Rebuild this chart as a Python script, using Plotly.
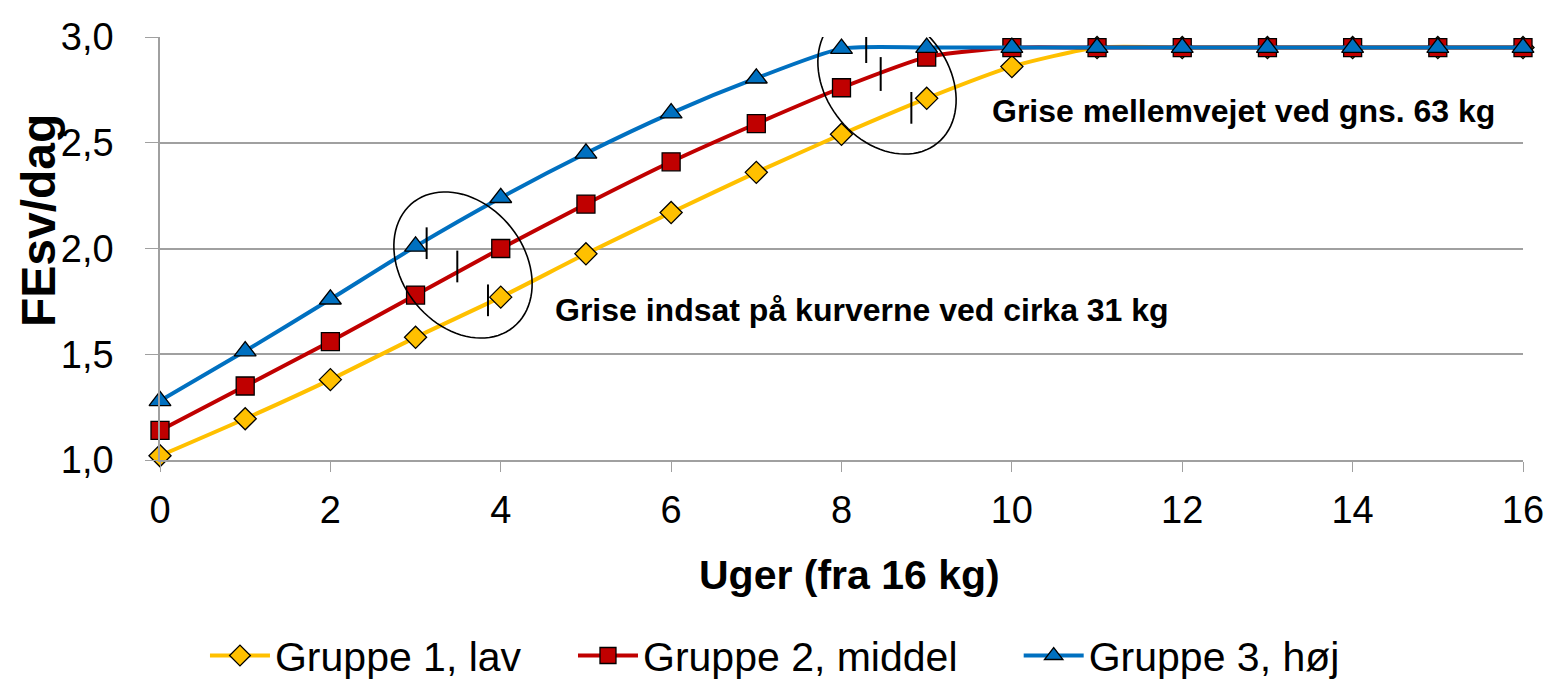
import numpy as np
import plotly.graph_objects as go

weeks = list(range(0, 17))
gruppe1 = [1.02, 1.195, 1.38, 1.58, 1.77, 1.975, 2.17, 2.36, 2.54, 2.71, 2.86, 2.95, 2.95, 2.95, 2.95, 2.95, 2.95]
gruppe2 = [1.14, 1.35, 1.56, 1.78, 2.00, 2.21, 2.41, 2.59, 2.76, 2.905, 2.95, 2.95, 2.95, 2.95, 2.95, 2.95, 2.95]
gruppe3 = [1.28, 1.515, 1.76, 2.01, 2.24, 2.45, 2.64, 2.805, 2.945, 2.95, 2.95, 2.95, 2.95, 2.95, 2.95, 2.95, 2.95]
names = ["Gruppe 1, lav", "Gruppe 2, middel", "Gruppe 3, høj"]
y_ticks = [1.0, 1.5, 2.0, 2.5, 3.0]
x_ticks = list(range(0, 17, 2))

# marker lines (annotation ticks): x, y0, y1
ticks_31 = [(3.13, 1.95, 2.10), (3.49, 1.84, 1.99), (3.85, 1.68, 1.83)]
ticks_63 = [(8.29, 2.877, 3.033), (8.46, 2.745, 2.905), (8.82, 2.59, 2.74)]

fig = go.Figure()
styles = [
    dict(color="#FFC000", symbol="diamond", size=17),
    dict(color="#C00000", symbol="square", size=18),
    dict(color="#0070C0", symbol="triangle-up", size=19),
]
legend_ids = ["legend", "legend2", "legend3"]
for name, vals, st, lg in zip(names, [gruppe1, gruppe2, gruppe3], styles, legend_ids):
    fig.add_trace(go.Scatter(
        x=weeks, y=vals, name=name, mode="lines+markers", legend=lg,
        line=dict(color=st["color"], width=4, shape="spline", smoothing=0.6),
        marker=dict(symbol=st["symbol"], size=st["size"], color=st["color"],
                    line=dict(color="black", width=1.3)),
        cliponaxis=False,
    ))

# plot geometry in screen px for ellipse conversion
L, R, T, B = 160, 1523, 37, 460
def px2x(px):
    return (px - L) / (R - L) * 16
def py2y(py):
    return 3.0 - (py - T) / (B - T) * 2.0

def ellipse_path(cx, cy, a, b, ang_deg):
    t = np.linspace(0, 2 * np.pi, 90)
    ang = np.deg2rad(ang_deg)
    xs = cx + a * np.cos(t) * np.cos(ang) - b * np.sin(t) * np.sin(ang)
    ys = cy + a * np.cos(t) * np.sin(ang) + b * np.sin(t) * np.cos(ang)
    pts = [f"{px2x(x):.4f},{py2y(y):.4f}" for x, y in zip(xs, ys)]
    return "M " + " L ".join(pts) + " Z"

shapes = []
for (cx, cy) in [(463, 265), (887, 81)]:
    shapes.append(dict(type="path", xref="x", yref="y",
                       path=ellipse_path(cx, cy, 80, 61, 51),
                       line=dict(color="black", width=1.6)))
for (x, y0, y1) in ticks_31 + ticks_63:
    shapes.append(dict(type="line", xref="x", yref="y", x0=x, x1=x, y0=y0, y1=y1,
                       line=dict(color="black", width=2)))

leg_common = dict(orientation="h", xanchor="left", y=-0.463, yanchor="middle",
                  font=dict(size=41), itemwidth=60, bgcolor="rgba(0,0,0,0)")
fig.update_layout(
    width=1544, height=673,
    margin=dict(l=152, r=29, t=29, b=221, autoexpand=False),
    plot_bgcolor="white", paper_bgcolor="white",
    separators=",.",
    font=dict(family="Liberation Sans, Arial, sans-serif", size=38, color="black"),
    shapes=shapes,
    showlegend=True,
    legend=dict(x=0.033, **leg_common),
    legend2=dict(x=0.303, **leg_common),
    legend3=dict(x=0.630, **leg_common),
    annotations=[
        dict(text="<b>Grise indsat på kurverne ved cirka 31 kg</b>", x=px2x(553), y=py2y(310),
             xref="x", yref="y", xanchor="left", yanchor="middle", showarrow=False,
             font=dict(size=32)),
        dict(text="<b>Grise mellemvejet ved gns. 63 kg</b>", x=px2x(990), y=py2y(111),
             xref="x", yref="y", xanchor="left", yanchor="middle", showarrow=False,
             font=dict(size=32)),
        dict(text="<b>Uger (fra 16 kg)</b>", x=0.506, y=-0.272, xref="paper", yref="paper",
             xanchor="center", yanchor="middle", showarrow=False, font=dict(size=41)),
        dict(text="<b>FEsv/dag</b>", x=-0.0895, y=0.565, xref="paper", yref="paper",
             xanchor="center", yanchor="middle", showarrow=False, textangle=-90,
             font=dict(size=48)),
    ],
)
fig.update_xaxes(range=[0, 16], tickvals=x_ticks, showgrid=False, showline=True,
                 linecolor="#A0A0A0", linewidth=1.5, ticks="outside", ticklen=10,
                 tickcolor="#A0A0A0", tickfont=dict(size=38), zeroline=False,
                 ticklabelstandoff=6, automargin=False)
fig.update_yaxes(range=[1.0, 3.0], tickvals=y_ticks, tickformat=".1f", showgrid=True,
                 gridcolor="#A0A0A0", gridwidth=1.5, showline=True, linecolor="#A0A0A0",
                 linewidth=1.5, ticks="outside", ticklen=13, tickcolor="#A0A0A0",
                 tickfont=dict(size=38), zeroline=False, ticklabelstandoff=24,
                 automargin=False)

fig.write_html("out.html")
